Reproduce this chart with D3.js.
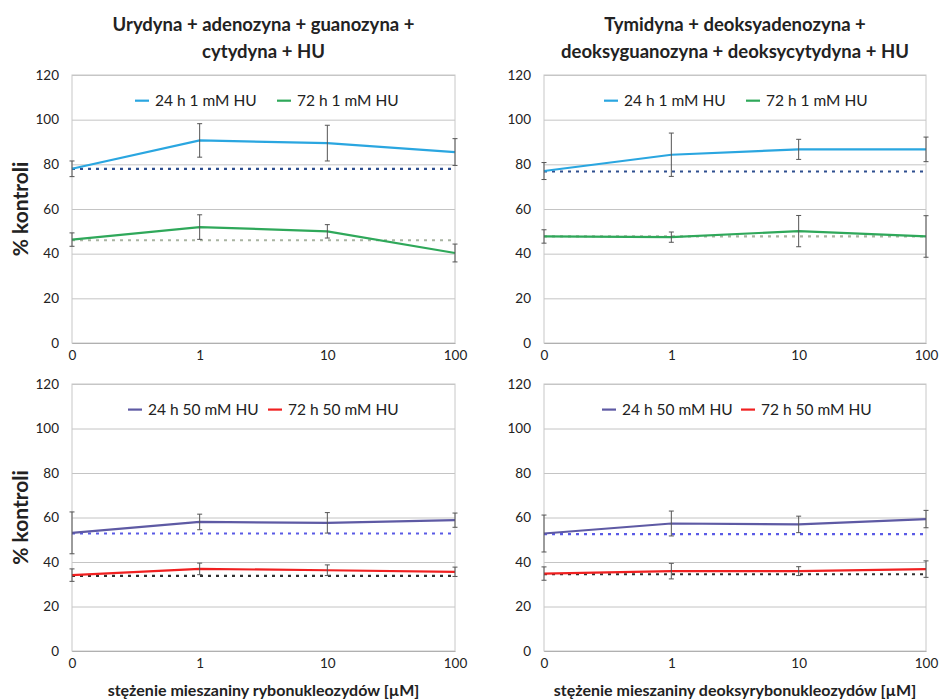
<!DOCTYPE html>
<html>
<head>
<meta charset="utf-8">
<script src="https://cdn.jsdelivr.net/npm/d3@7"></script>
<style>
  html, body { margin: 0; padding: 0; background: #fff; }
  svg { display: block; font-family: Lato, "Open Sans", sans-serif; }
</style>
</head>
<body>
<svg id="chart" width="940" height="700"></svg>
<script>
// ---------- DATA ----------
const xCategories = ["0", "1", "10", "100"];
const yTickValues = [0, 20, 40, 60, 80, 100, 120];

const titleLeft = ["Urydyna + adenozyna + guanozyna +", "cytydyna + HU"];
const titleRight = ["Tymidyna + deoksyadenozyna +", "deoksyguanozyna + deoksycytydyna + HU"];
const xTitleLeft = "stężenie mieszaniny rybonukleozydów [µM]";
const xTitleRight = "stężenie mieszaniny deoksyrybonukleozydów [µM]";
const yTitle = "% kontroli";

const seriesNamesTop = ["24 h 1 mM HU", "72 h 1 mM HU"];
const seriesNamesBottom = ["24 h 50 mM HU", "72 h 50 mM HU"];

// Top-left: ribonucleosides, 1 mM HU
const tl24 = [78, 90.7, 89.5, 85.5];
const tl24Err = [3.5, 7.5, 8, 6];
const tl24Base = 78;
const tl72 = [46.3, 51.9, 50, 40.3];
const tl72Err = [3, 5.5, 3, 4];
const tl72Base = 46;

// Top-right: deoxyribonucleosides, 1 mM HU
const tr24 = [77, 84.3, 86.7, 86.7];
const tr24Err = [3.8, 9.7, 4.5, 5.5];
const tr24Base = 76.8;
const tr72 = [47.7, 47.4, 50.1, 47.7];
const tr72Err = [3, 2.3, 7, 9.3];
const tr72Base = 47.7;

// Bottom-left: ribonucleosides, 50 mM HU
const bl24 = [53.1, 58, 57.6, 58.8];
const bl24Err = [9.4, 3.5, 4.6, 3.2];
const bl24Base = 52.8;
const bl72 = [34.1, 36.9, 36.3, 35.6];
const bl72Err = [2.8, 2.6, 2.4, 2.1];
const bl72Base = 33.8;

// Bottom-right: deoxyribonucleosides, 50 mM HU
const br24 = [52.8, 57.3, 56.9, 59.3];
const br24Err = [8.3, 5.6, 3.7, 3.9];
const br24Base = 52.5;
const br72 = [34.8, 35.9, 35.9, 36.8];
const br72Err = [3, 3.5, 2, 3.7];
const br72Base = 34.5;

// ---------- STYLE ----------
const colors = {
  top24: "#2aa6e0", top72: "#2fa85a", top24Base: "#2f4f8f", top72Base: "#a9b4a2",
  bot24: "#5e5aa4", bot72: "#f02020", bot24Base: "#5a5ae6", bot72Base: "#303030"
};

const panels = [
  { x0: 72, x1: 455, y0: 75, y1: 343, title: titleLeft, xTitle: null, yTitle: true,
    names: seriesNamesTop, legendX: [135, 277],
    series: [
      { v: tl24, e: tl24Err, base: tl24Base, c: colors.top24, bc: colors.top24Base },
      { v: tl72, e: tl72Err, base: tl72Base, c: colors.top72, bc: colors.top72Base }
    ] },
  { x0: 544, x1: 926, y0: 75, y1: 343, title: titleRight, xTitle: null, yTitle: false,
    names: seriesNamesTop, legendX: [604, 746],
    series: [
      { v: tr24, e: tr24Err, base: tr24Base, c: colors.top24, bc: colors.top24Base },
      { v: tr72, e: tr72Err, base: tr72Base, c: colors.top72, bc: colors.top72Base }
    ] },
  { x0: 72, x1: 455, y0: 384, y1: 651, title: null, xTitle: xTitleLeft, yTitle: true,
    names: seriesNamesBottom, legendX: [128, 268],
    series: [
      { v: bl24, e: bl24Err, base: bl24Base, c: colors.bot24, bc: colors.bot24Base },
      { v: bl72, e: bl72Err, base: bl72Base, c: colors.bot72, bc: colors.bot72Base }
    ] },
  { x0: 544, x1: 926, y0: 384, y1: 651, title: null, xTitle: xTitleRight, yTitle: false,
    names: seriesNamesBottom, legendX: [602, 741],
    series: [
      { v: br24, e: br24Err, base: br24Base, c: colors.bot24, bc: colors.bot24Base },
      { v: br72, e: br72Err, base: br72Base, c: colors.bot72, bc: colors.bot72Base }
    ] }
];

const svg = d3.select("#chart");

panels.forEach(p => {
  const g = svg.append("g");
  const x = d3.scalePoint().domain(xCategories).range([p.x0, p.x1]).padding(0);
  const y = d3.scaleLinear().domain([0, 120]).range([p.y1, p.y0]);

  // gridlines
  g.append("g")
    .attr("transform", `translate(${p.x0},0)`)
    .call(d3.axisLeft(y).tickValues(yTickValues).tickSize(-(p.x1 - p.x0)).tickFormat(""))
    .call(a => a.select(".domain").remove())
    .call(a => a.selectAll("line").attr("stroke", "#c4c4c4").attr("stroke-width", 1));

  // plot border
  g.append("rect")
    .attr("x", p.x0).attr("y", p.y0)
    .attr("width", p.x1 - p.x0).attr("height", p.y1 - p.y0)
    .attr("fill", "none").attr("stroke", "#c8c8c8").attr("stroke-width", 1);

  // y axis labels
  g.append("g")
    .attr("transform", `translate(${p.x0},0)`)
    .call(d3.axisLeft(y).tickValues(yTickValues).tickSize(0).tickPadding(13))
    .call(a => a.select(".domain").remove())
    .call(a => a.selectAll("text").attr("font-family", "Lato, sans-serif")
      .attr("font-size", 13.5).attr("fill", "#222"));

  // x axis
  g.append("g")
    .attr("transform", `translate(0,${p.y1})`)
    .call(d3.axisBottom(x).tickSize(0).tickPadding(7))
    .call(a => a.select(".domain").attr("stroke", "#b0b0b0"))
    .call(a => a.selectAll("text").attr("font-family", "Lato, sans-serif")
      .attr("font-size", 13.5).attr("fill", "#222"));

  // baselines (dotted)
  p.series.forEach(s => {
    g.append("line")
      .attr("x1", p.x0).attr("x2", p.x1)
      .attr("y1", y(s.base)).attr("y2", y(s.base))
      .attr("stroke", s.bc).attr("stroke-width", 2.2)
      .attr("stroke-dasharray", "3,5");
  });

  // series lines
  const line = d3.line().x((d, i) => x(xCategories[i])).y(d => y(d));
  p.series.forEach(s => {
    g.append("path").datum(s.v)
      .attr("d", line).attr("fill", "none")
      .attr("stroke", s.c).attr("stroke-width", 2.2);
  });

  // error bars
  p.series.forEach(s => {
    const eb = g.append("g").attr("stroke", "#555").attr("stroke-width", 1);
    s.v.forEach((v, i) => {
      const cx = x(xCategories[i]);
      const top = y(v + s.e[i]), bot = y(v - s.e[i]);
      eb.append("line").attr("x1", cx).attr("x2", cx).attr("y1", top).attr("y2", bot);
      eb.append("line").attr("x1", cx - 2.5).attr("x2", cx + 2.5).attr("y1", top).attr("y2", top);
      eb.append("line").attr("x1", cx - 2.5).attr("x2", cx + 2.5).attr("y1", bot).attr("y2", bot);
    });
  });

  // legend
  const ly = y(108.5);
  p.series.forEach((s, i) => {
    const lx = p.legendX[i];
    g.append("line").attr("x1", lx).attr("x2", lx + 14)
      .attr("y1", ly).attr("y2", ly)
      .attr("stroke", s.c).attr("stroke-width", 2.2);
    g.append("text").attr("x", lx + 20).attr("y", ly).attr("dy", "0.35em")
      .attr("font-size", 15.5).attr("fill", "#222").text(p.names[i]);
  });

  const cx = (p.x0 + p.x1) / 2;
  // title
  if (p.title) {
    p.title.forEach((t, i) => {
      g.append("text").attr("x", cx).attr("y", 31 + i * 27)
        .attr("text-anchor", "middle").attr("font-size", 18.5)
        .attr("font-weight", "bold").attr("fill", "#222").text(t);
    });
  }
  // x title
  if (p.xTitle) {
    g.append("text").attr("x", cx).attr("y", p.y1 + 45)
      .attr("text-anchor", "middle").attr("font-size", 16)
      .attr("font-weight", "bold").attr("fill", "#222").text(p.xTitle);
  }
  // y title
  if (p.yTitle) {
    const my = (p.y0 + p.y1) / 2;
    g.append("text")
      .attr("transform", `translate(28,${my}) rotate(-90)`)
      .attr("text-anchor", "middle").attr("font-size", 21)
      .attr("font-weight", "bold").attr("fill", "#222").text(yTitle);
  }
});
</script>
</body>
</html>
